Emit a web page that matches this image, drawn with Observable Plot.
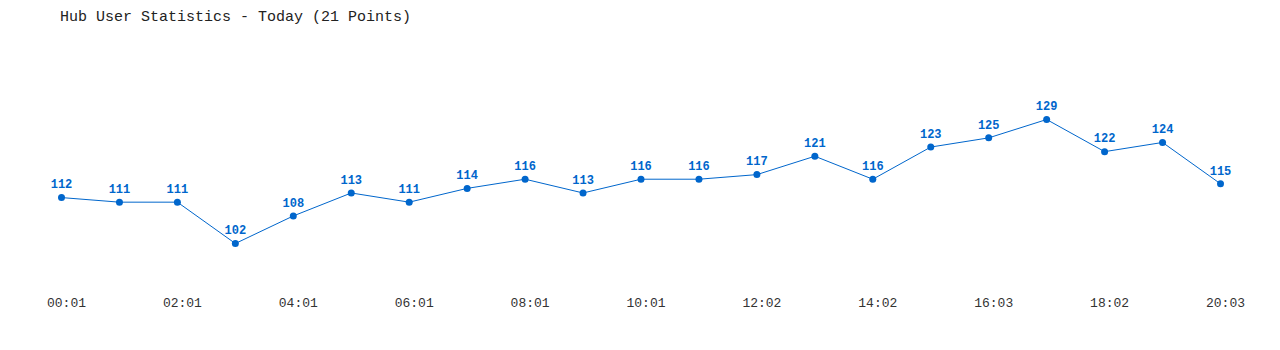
<!DOCTYPE html>
<html>
<head>
<meta charset="utf-8">
<script src="https://cdn.jsdelivr.net/npm/d3@7"></script>
<script src="https://cdn.jsdelivr.net/npm/@observablehq/plot@0.6"></script>
<style>
  html, body { margin: 0; padding: 0; background: #fff; overflow: hidden; }
  #title { box-sizing: border-box; height: 36px; padding: 9px 0 0 60px; font: 15px "Liberation Mono", "DejaVu Sans Mono", monospace; color: #222; white-space: pre; }
  svg { display: block; }
</style>
</head>
<body>
<div id="title">Hub User Statistics - Today (21 Points)</div>
<div id="chart"></div>
<script>
const times = ["00:01","01:01","02:01","03:01","04:01","05:01","06:01","07:01","08:01","09:01","10:01","11:01","12:02","13:02","14:02","15:02","16:03","17:03","18:02","19:02","20:03"];
const users = [112,111,111,102,108,113,111,114,116,113,116,116,117,121,116,123,125,129,122,124,115];
const tickTimes = ["00:01","02:01","04:01","06:01","08:01","10:01","12:02","14:02","16:03","18:02","20:03"];

const data = times.map((t, i) => ({i, t, v: users[i]}));
const tickIdx = tickTimes.map(t => times.indexOf(t));
const blue = "#0066cc";

const chart = Plot.plot({
  width: 1280,
  height: 314,
  marginLeft: 61,
  marginRight: 60,
  marginTop: 83,
  marginBottom: 107,
  style: {fontFamily: "'Liberation Mono', 'DejaVu Sans Mono', monospace", background: "#fff"},
  x: {type: "linear", domain: [0, times.length - 1], label: null},
  y: {domain: [102, 129], axis: null},
  marks: [
    Plot.axisX({ticks: tickIdx, tickFormat: i => times[i], tickSize: 0, tickPadding: 54, dx: 5, fontSize: 13, fill: "#333", label: null}),
    Plot.line(data, {x: "i", y: "v", stroke: blue, strokeWidth: 1}),
    Plot.dot(data, {x: "i", y: "v", r: 3.5, fill: blue, stroke: "none"}),
    Plot.text(data, {x: "i", y: "v", text: d => String(d.v), dy: -13, fill: blue, fontWeight: "bold", fontSize: 12})
  ]
});
document.getElementById("chart").appendChild(chart);
</script>
</body>
</html>
